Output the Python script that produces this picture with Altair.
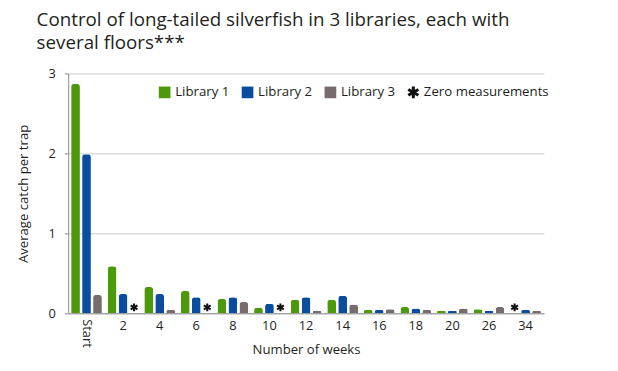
import altair as alt
import pandas as pd
import numpy as np

# ---- data ----
weeks = ["Start", "2", "4", "6", "8", "10", "12", "14", "16", "18", "20", "26", "34"]
library_1 = [2.87, 0.59, 0.33, 0.28, 0.18, 0.07, 0.17, 0.17, 0.04, 0.08, 0.03, 0.05, 0.0]
library_2 = [1.99, 0.24, 0.24, 0.20, 0.20, 0.12, 0.20, 0.22, 0.04, 0.06, 0.03, 0.03, 0.04]
library_3 = [0.23, 0.0, 0.04, 0.0, 0.14, 0.0, 0.03, 0.11, 0.05, 0.04, 0.06, 0.08, 0.03]
series_names = ["Library 1", "Library 2", "Library 3"]
zero_label = "Zero measurements"
y_ticks = [0, 1, 2, 3]

title_lines = ["Control of long-tailed silverfish in 3 libraries, each with",
               "several floors***"]
y_title = "Average catch per trap"
x_title = "Number of weeks"

# ---- styles ----
GREEN, BLUE, GREY, BLACK = "#4c9a0c", "#0a4d9f", "#786b6e", "#111111"
TEXT = "#231f20"
FONT = "Open Sans"
FS_TICK = 13
FS_TITLE = 13.3
FS_LEG = 13.4

# asterisk symbol (three overlapping arms, same winding -> filled union)
def _asterisk(w=0.26):
    parts = []
    for deg in (90, 30, 150):
        t = np.radians(deg)
        u = np.array([np.cos(t), np.sin(t)])
        v = np.array([-np.sin(t), np.cos(t)])
        pts = [u + v * w, u - v * w, -u - v * w, -u + v * w]
        parts.append("M" + "L".join(f"{p[0]:.3f},{p[1]:.3f}" for p in pts) + "Z")
    return "".join(parts)

ASTERISK = _asterisk()

rows = []
for vals, name in zip([library_1, library_2, library_3], series_names):
    for wk, v in zip(weeks, vals):
        rows.append({"week": wk, "slot": name, "series": name, "value": v})
df = pd.DataFrame(rows)
bars_df = df[df["value"] > 0]
zeros_df = df[df["value"] == 0].copy()
zeros_df["series"] = zero_label
start_df = pd.DataFrame({"week": [weeks[0]], "label": [weeks[0]]})

domain_all = series_names + [zero_label]
color_scale = alt.Scale(domain=domain_all, range=[GREEN, BLUE, GREY, BLACK])
shape_scale = alt.Scale(domain=domain_all, range=["square", "square", "square", ASTERISK])

legend_def = alt.Legend(
    title=None, orient="none", direction="horizontal", legendX=91, legendY=12,
    symbolSize=140, labelFont=FONT, labelFontSize=FS_LEG, labelColor=TEXT,
    columnPadding=11, labelOffset=4, symbolStrokeWidth=0,
)

x_enc = alt.X(
    "week:N", sort=weeks, title=x_title,
    scale=alt.Scale(paddingInner=0.16, paddingOuter=0.08),
    axis=alt.Axis(
        labelAngle=0, ticks=False, labelPadding=6, labelFont=FONT, labelFontSize=FS_TICK,
        labelColor=TEXT, titleFont=FONT, titleFontSize=FS_TITLE, titleFontWeight="normal",
        titleColor=TEXT, titlePadding=11, domainColor="#8c8c8c", grid=False,
        labelExpr="datum.label == 'Start' ? '' : datum.label",
    ),
)
y_enc = alt.Y(
    "value:Q", title=y_title, scale=alt.Scale(domain=[0, 3], nice=False),
    axis=alt.Axis(
        values=y_ticks, format="d", grid=True, gridColor="#cccccc", domainColor="#8c8c8c",
        tickColor="#8c8c8c", tickSize=4, labelPadding=9, labelFont=FONT, labelFontSize=FS_TICK,
        labelColor=TEXT, titleFont=FONT, titleFontSize=FS_TITLE, titleFontWeight="normal",
        titleColor=TEXT, titlePadding=18,
    ),
)
xoff = alt.XOffset("slot:N", sort=series_names, scale=alt.Scale(paddingInner=0.2))

bars = alt.Chart(bars_df).mark_bar(
    cornerRadiusTopLeft=3, cornerRadiusTopRight=3
).encode(
    x=x_enc, y=y_enc, xOffset=xoff,
    color=alt.Color("series:N", scale=color_scale, legend=legend_def),
)

stars = alt.Chart(zeros_df).mark_point(
    filled=True, opacity=1, size=64, yOffset=-6
).encode(
    x=x_enc, y=y_enc, xOffset=xoff,
    color=alt.Color("series:N", scale=color_scale, legend=legend_def),
    shape=alt.Shape("series:N", scale=shape_scale, legend=legend_def),
)

start_label = alt.Chart(start_df).mark_text(
    angle=90, align="left", baseline="middle", font=FONT, fontSize=FS_TICK,
    color=TEXT, yOffset=6,
).encode(
    x=alt.X("week:N", sort=weeks),
    y=alt.datum(0),
    text="label:N",
)

chart = alt.layer(bars, stars, start_label).properties(
    width=482, height=243,
    autosize="none",
    padding={"left": 61, "top": 64, "right": 67, "bottom": 48},
    title=alt.TitleParams(
        text=title_lines, anchor="start", frame="group", dx=-32, offset=15, fontSize=19,
        font=FONT, fontWeight="normal", color=TEXT, lineHeight=23.5,
    ),
).configure_view(stroke=None)

chart.save("out.html", embed_options={"renderer": "svg", "actions": False})
